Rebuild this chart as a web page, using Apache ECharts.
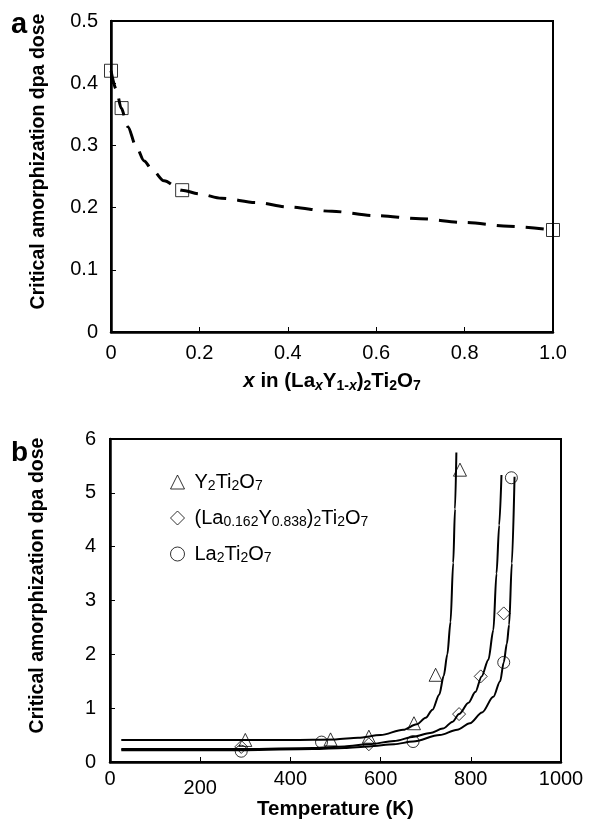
<!DOCTYPE html>
<html><head><meta charset="utf-8">
<script src="https://cdn.jsdelivr.net/npm/echarts@6/dist/echarts.min.js"></script>
<style>html,body{margin:0;padding:0;background:#fff}#c{width:593px;height:823px}</style>
</head><body><div id="c"></div>
<script>
// Panel a data
const aCurveX = [0, 0.012, 0.023, 0.038, 0.057, 0.075, 0.094, 0.12, 0.16, 0.2, 0.25, 0.33, 0.4, 0.5, 0.6, 0.7, 0.8, 0.9, 1.0];
const aCurveY = [0.42, 0.39, 0.36, 0.33, 0.298, 0.275, 0.26, 0.243, 0.228, 0.222, 0.215, 0.208, 0.201, 0.194, 0.187, 0.182, 0.176, 0.17, 0.164];
const aPointX = [0, 0.024, 0.161, 1.0];
const aPointY = [0.42, 0.36, 0.228, 0.164];
const aXTicks = ['0', '0.2', '0.4', '0.6', '0.8', '1.0'];
const aYTicks = ['0', '0.1', '0.2', '0.3', '0.4', '0.5'];

// Panel b data
const seriesNames = ['Y2Ti2O7', '(La0.162Y0.838)2Ti2O7', 'La2Ti2O7'];
const triT = [300, 489, 574, 674, 722, 776];
const triV = [0.41, 0.42, 0.47, 0.72, 1.62, 5.43];
const diaT = [291, 574, 774, 822, 873];
const diaV = [0.28, 0.33, 0.89, 1.59, 2.76];
const cirT = [291, 469, 672, 873, 890];
const cirV = [0.2, 0.37, 0.38, 1.85, 5.28];
const triCurveT = [25, 200, 400, 500, 550, 600, 650, 680, 700, 715, 730, 740, 748, 755, 761, 765, 768];
const triCurveV = [0.41, 0.41, 0.41, 0.42, 0.45, 0.5, 0.6, 0.7, 0.82, 0.97, 1.25, 1.6, 2.0, 2.6, 3.7, 4.7, 5.75];
const diaCurveT = [25, 300, 450, 520, 574, 630, 674, 710, 738, 760, 774, 795, 810, 824, 839, 850, 857, 863, 868];
const diaCurveV = [0.24, 0.24, 0.26, 0.29, 0.33, 0.39, 0.47, 0.54, 0.62, 0.75, 0.89, 1.1, 1.3, 1.59, 1.9, 2.45, 3.5, 4.4, 5.33];
const cirCurveT = [25, 300, 450, 520, 574, 630, 672, 731, 770, 798, 825, 850, 865, 873, 880, 885, 891, 897];
const cirCurveV = [0.22, 0.22, 0.24, 0.26, 0.29, 0.33, 0.38, 0.5, 0.6, 0.72, 0.92, 1.21, 1.5, 1.85, 2.2, 2.55, 3.69, 5.3];
const bXTicks = ['0', '200', '400', '600', '800', '1000'];
const bYTicks = ['0', '1', '2', '3', '4', '5', '6'];

const zip = (a, b) => a.map((v, i) => [v, b[i]]);
const FONT = '"Liberation Sans", Arial, sans-serif';
const blk = '#000';
const TICK = 20;
const TITLE = 20.5;

function axisCommon() {
  return {
    axisLine: { show: true, onZero: false, lineStyle: { color: blk, width: 2.5 } },
    axisTick: { show: true, inside: true, length: 5, lineStyle: { color: blk, width: 1 } },
    splitLine: { show: false },
    axisLabel: { color: blk, fontFamily: FONT, fontSize: TICK },
    nameTextStyle: { color: blk, fontFamily: FONT, fontSize: TITLE, fontWeight: 'bold' },
    nameLocation: 'middle'
  };
}

const legendRich = {
  s: { fontSize: 14, fontFamily: FONT, color: blk, verticalAlign: 'bottom', lineHeight: 16 }
};
const legendLabels = {
  'Y2Ti2O7': 'Y{s|2}Ti{s|2}O{s|7}',
  '(La0.162Y0.838)2Ti2O7': '(La{s|0.162}Y{s|0.838}){s|2}Ti{s|2}O{s|7}',
  'La2Ti2O7': 'La{s|2}Ti{s|2}O{s|7}'
};
const yTitleStyle = { color: blk, fontFamily: FONT, fontSize: 19.5, fontWeight: 'bold', padding: [0, 0, 0, 30] };

const chart = echarts.init(document.getElementById('c'), null, { renderer: 'canvas' });
const option = {
  backgroundColor: '#fff',
  animation: false,
  textStyle: { fontFamily: FONT },
  grid: [
    { left: 111, right: 40, top: 21, height: 311, show: true, borderColor: blk, borderWidth: 2, backgroundColor: 'transparent' },
    { left: 110, right: 32, top: 439, height: 323, show: true, borderColor: blk, borderWidth: 2, backgroundColor: 'transparent' }
  ],
  xAxis: [
    Object.assign(axisCommon(), {
      gridIndex: 0, type: 'value', min: 0, max: 1, interval: 0.2,
      name: '{i|x} in (La{is|x}Y{s|1-}{is|x}){s|2}Ti{s|2}O{s|7}', nameGap: 37,
      nameTextStyle: {
        color: blk, fontFamily: FONT, fontSize: TITLE, fontWeight: 'bold', lineHeight: 24,
        rich: {
          i: { fontStyle: 'italic', fontWeight: 'bold', fontSize: TITLE, fontFamily: FONT, color: blk },
          s: { fontWeight: 'bold', fontSize: 14, fontFamily: FONT, color: blk, verticalAlign: 'bottom', lineHeight: 16 },
          is: { fontStyle: 'italic', fontWeight: 'bold', fontSize: 14, fontFamily: FONT, color: blk, verticalAlign: 'bottom', lineHeight: 16 }
        }
      },
      axisLabel: { color: blk, fontFamily: FONT, fontSize: TICK, margin: 11, formatter: (v) => aXTicks[Math.round(v / 0.2)] }
    }),
    Object.assign(axisCommon(), {
      gridIndex: 1, type: 'value', min: 0, max: 1000, interval: 200,
      name: 'Temperature (K)', nameGap: 33,
      axisLabel: {
        color: blk, fontFamily: FONT, fontSize: TICK, margin: 7,
        formatter: (v) => { const t = bXTicks[Math.round(v / 200)]; return v === 200 ? '{low|' + t + '}' : t; },
        rich: { low: { fontFamily: FONT, fontSize: TICK, color: blk, padding: [9, 0, 0, 0] } }
      }
    })
  ],
  yAxis: [
    Object.assign(axisCommon(), {
      gridIndex: 0, type: 'value', min: 0, max: 0.5, interval: 0.1,
      name: 'Critical amorphization dpa dose', nameGap: 62, nameTextStyle: yTitleStyle,
      axisLabel: { color: blk, fontFamily: FONT, fontSize: TICK, margin: 13, formatter: (v) => aYTicks[Math.round(v / 0.1)] }
    }),
    Object.assign(axisCommon(), {
      gridIndex: 1, type: 'value', min: 0, max: 6, interval: 1,
      name: 'Critical amorphization dpa dose', nameGap: 62, nameTextStyle: yTitleStyle,
      axisLabel: { color: blk, fontFamily: FONT, fontSize: TICK, margin: 14, formatter: (v) => bYTicks[Math.round(v)] }
    })
  ],
  legend: {
    orient: 'vertical', left: 165, top: 466, itemGap: 14, itemWidth: 14, itemHeight: 14,
    data: seriesNames,
    formatter: (n) => legendLabels[n],
    textStyle: { color: blk, fontFamily: FONT, fontSize: 20, lineHeight: 22, padding: [0, 0, 0, 5], rich: legendRich },
    itemStyle: { color: 'transparent', borderColor: blk, borderWidth: 1 }
  },
  graphic: [
    { type: 'text', left: 11, top: 10, style: { text: 'a', font: 'bold 29px ' + FONT, fill: blk } },
    { type: 'text', left: 11, top: 439, style: { text: 'b', font: 'bold 28px ' + FONT, fill: blk } }
  ],
  series: [
    { type: 'line', xAxisIndex: 0, yAxisIndex: 0, data: zip(aCurveX, aCurveY), symbol: 'none', smooth: 0.3, smoothMonotone: 'x',
      lineStyle: { color: blk, width: 3, type: [18, 11] }, silent: true },
    { type: 'scatter', xAxisIndex: 0, yAxisIndex: 0, data: zip(aPointX, aPointY), symbol: 'rect', symbolSize: 13,
      itemStyle: { color: 'transparent', borderColor: blk, borderWidth: 1 } },
    { type: 'line', xAxisIndex: 1, yAxisIndex: 1, data: zip(triCurveT, triCurveV), symbol: 'none', smooth: 0.3, smoothMonotone: 'x', lineStyle: { color: blk, width: 2 } },
    { type: 'line', xAxisIndex: 1, yAxisIndex: 1, data: zip(diaCurveT, diaCurveV), symbol: 'none', smooth: 0.3, smoothMonotone: 'x', lineStyle: { color: blk, width: 2 } },
    { type: 'line', xAxisIndex: 1, yAxisIndex: 1, data: zip(cirCurveT, cirCurveV), symbol: 'none', smooth: 0.3, smoothMonotone: 'x', lineStyle: { color: blk, width: 2 } },
    { name: seriesNames[0], type: 'scatter', xAxisIndex: 1, yAxisIndex: 1, data: zip(triT, triV), symbol: 'triangle', symbolSize: 13,
      itemStyle: { color: 'transparent', borderColor: blk, borderWidth: 1 } },
    { name: seriesNames[1], type: 'scatter', xAxisIndex: 1, yAxisIndex: 1, data: zip(diaT, diaV), symbol: 'diamond', symbolSize: 13,
      itemStyle: { color: 'transparent', borderColor: blk, borderWidth: 1 } },
    { name: seriesNames[2], type: 'scatter', xAxisIndex: 1, yAxisIndex: 1, data: zip(cirT, cirV), symbol: 'circle', symbolSize: 12,
      itemStyle: { color: 'transparent', borderColor: blk, borderWidth: 1 } }
  ]
};
chart.setOption(option);
</script></body></html>
